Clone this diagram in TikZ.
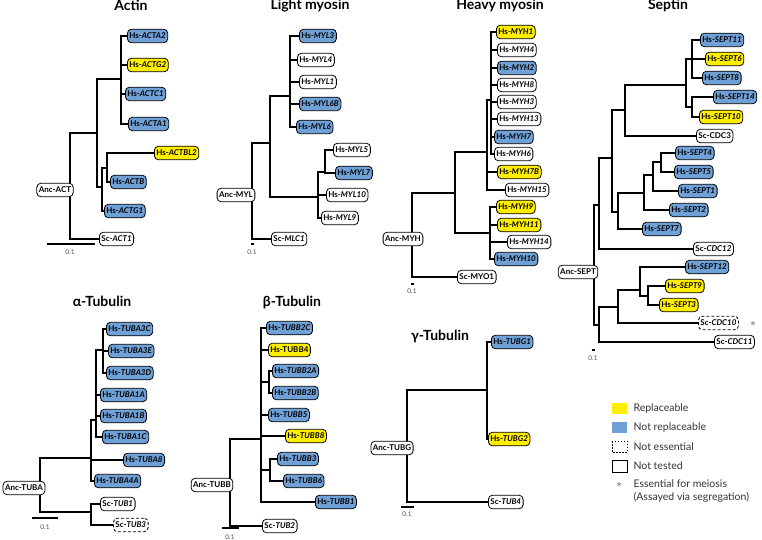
\documentclass[tikz,border=0pt]{standalone}
\usepackage{fontspec}
\setmainfont{Lato}
\usepackage{tikz}
\usetikzlibrary{backgrounds}
\definecolor{repyel}{RGB}{255,238,0}
\definecolor{nrepblu}{RGB}{111,160,214}
\tikzset{
  br/.style={line width=2.8pt, line cap=rect, line join=miter},
  gene/.style={draw, line width=0.8pt, rounded corners=4pt, anchor=west,
    font=\bfseries\fontsize{8}{9}\selectfont, inner xsep=2pt, inner ysep=0pt,
    minimum height=13.5pt},
  rep/.style={gene, fill=repyel},
  nrep/.style={gene, fill=nrepblu},
  ntst/.style={gene, fill=white},
  ness/.style={gene, fill=white, dash pattern=on 3pt off 2pt},
  anc/.style={ntst, anchor=center},
  ttl/.style={font=\bfseries\fontsize{14}{16}\selectfont, anchor=base},
  sbar/.style={line width=2.2pt},
  stxt/.style={font=\fontsize{6.5}{7}\selectfont, text=black!70},
  legtxt/.style={font=\fontsize{10.5}{12}\selectfont, text=black!80, anchor=west},
}
\begin{document}
\begin{tikzpicture}[x=1pt,y=-1pt]
\useasboundingbox (0,0) rectangle (762,540);

% Actin
\node[ttl] (tAct) at (131,11) {Actin};
\node[nrep] (ACTA2) at (127,36) {Hs-\textit{ACTA2}};
\node[rep] (ACTG2) at (127,65) {Hs-\textit{ACTG2}};
\node[nrep] (ACTC1) at (125,94) {Hs-\textit{ACTC1}};
\node[nrep] (ACTA1) at (128,124) {Hs-\textit{ACTA1}};
\node[rep] (ACTBL2) at (154,153) {Hs-\textit{ACTBL2}};
\node[nrep] (ACTB) at (110,182) {Hs-\textit{ACTB}};
\node[nrep] (ACTG1) at (104,211) {Hs-\textit{ACTG1}};
\node[ntst] (ACT1) at (99,239) {Sc-\textit{ACT1}};
\node[anc] (ancACT) at (55,190) {Anc-ACT};
\coordinate (rACT) at (70,190);
\coordinate (a1) at (97,133);
\coordinate (a2) at (121,79);
\coordinate (a3) at (102,187);
\coordinate (a4) at (107,168);
\begin{scope}[on background layer]
\draw[br] (rACT) |- (a1) (rACT) |- (ACT1.west) (a1) |- (a2) (a1) |- (a3);
\draw[br] (a2) |- (ACTA2.west) (a2) |- (ACTG2.west) (a2) |- (ACTC1.west) (a2) |- (ACTA1.west);
\draw[br] (a3) |- (a4) (a3) |- (ACTG1.west) (a4) |- (ACTBL2.west) (a4) |- (ACTB.west);
\end{scope}
\draw[sbar] (47,244) -- (95,244);
\node[stxt] (sAct) at (70,252) {0.1};

% Light myosin
\node[ttl] (tMyl) at (310,10) {Light myosin};
\node[nrep] (MYL3) at (299,36) {Hs-\textit{MYL3}};
\node[ntst] (MYL4) at (297,60) {Hs-\textit{MYL4}};
\node[ntst] (MYL1) at (299,82) {Hs-\textit{MYL1}};
\node[nrep] (MYL6B) at (299,104) {Hs-\textit{MYL6B}};
\node[nrep] (MYL6) at (296,127) {Hs-\textit{MYL6}};
\node[ntst] (MYL5) at (333,150) {Hs-\textit{MYL5}};
\node[nrep] (MYL7) at (335,173) {Hs-\textit{MYL7}};
\node[ntst] (MYL10) at (326,195) {Hs-\textit{MYL10}};
\node[ntst] (MYL9) at (321,218) {Hs-\textit{MYL9}};
\node[ntst] (MLC1) at (271,239) {Sc-\textit{MLC1}};
\node[anc] (ancMYL) at (236,195) {Anc-MYL};
\coordinate (rMYL) at (252,195);
\coordinate (m1) at (270,143);
\coordinate (m2) at (290,96);
\coordinate (m3) at (318,197);
\coordinate (m4) at (325,172);
\begin{scope}[on background layer]
\draw[br] (rMYL) |- (m1) (rMYL) |- (MLC1.west) (m1) |- (m2) (m1) |- (m3);
\draw[br] (m2) |- (MYL3.west) (m2) |- (MYL4.west) (m2) |- (MYL1.west) (m2) |- (MYL6B.west) (m2) |- (MYL6.west);
\draw[br] (m3) |- (m4) (m3) |- (MYL10.west) (m3) |- (MYL9.west) (m4) |- (MYL5.west) (m4) |- (MYL7.west);
\end{scope}
\draw[sbar] (250.5,244) -- (253.5,244);
\node[stxt] (sMyl) at (252,252) {0.1};

% Heavy myosin
\node[ttl] (tMyh) at (500,10) {Heavy myosin};
\node[rep] (MYH1) at (496,32) {Hs-\textit{MYH1}};
\node[ntst] (MYH4) at (497,50) {Hs-\textit{MYH4}};
\node[nrep] (MYH2) at (497,68) {Hs-\textit{MYH2}};
\node[ntst] (MYH8) at (497,85) {Hs-\textit{MYH8}};
\node[ntst] (MYH3) at (497,102) {Hs-\textit{MYH3}};
\node[ntst] (MYH13) at (497,119) {Hs-\textit{MYH13}};
\node[nrep] (MYH7) at (494,137) {Hs-\textit{MYH7}};
\node[ntst] (MYH6) at (494,154) {Hs-\textit{MYH6}};
\node[rep] (MYH7B) at (497,172) {Hs-\textit{MYH7B}};
\node[ntst] (MYH15) at (505,190) {Hs-\textit{MYH15}};
\node[rep] (MYH9) at (496,207) {Hs-\textit{MYH9}};
\node[rep] (MYH11) at (497,225) {Hs-\textit{MYH11}};
\node[ntst] (MYH14) at (507,242) {Hs-\textit{MYH14}};
\node[nrep] (MYH10) at (494,259) {Hs-\textit{MYH10}};
\node[ntst] (MYO1) at (457,277) {Sc-MYO1};
\node[anc] (ancMYH) at (403,239) {Anc-MYH};
\coordinate (rMYH) at (412,239);
\coordinate (h1) at (455,193);
\coordinate (h2) at (487,152);
\coordinate (h3) at (490,233);
\coordinate (h4) at (491,100);
\begin{scope}[on background layer]
\draw[br] (rMYH) |- (h1) (rMYH) |- (MYO1.west) (h1) |- (h2) (h1) |- (h3);
\draw[br] (h2) |- (h4) (h2) |- (MYH7B.west) (h2) |- (MYH15.west);
\draw[br] (h4) |- (MYH1.west) (h4) |- (MYH4.west) (h4) |- (MYH2.west) (h4) |- (MYH8.west) (h4) |- (MYH3.west) (h4) |- (MYH13.west) (h4) |- (MYH7.west) (h4) |- (MYH6.west);
\draw[br] (h3) |- (MYH9.west) (h3) |- (MYH11.west) (h3) |- (MYH14.west) (h3) |- (MYH10.west);
\end{scope}
\draw[sbar] (410.5,284) -- (413.5,284);
\node[stxt] (sMyh) at (412,291) {0.1};

% Septin
\node[ttl] (tSep) at (668,10) {Septin};
\node[nrep] (SEPT11) at (700,40) {Hs-\textit{SEPT11}};
\node[rep] (SEPT6) at (705,59) {Hs-\textit{SEPT6}};
\node[nrep] (SEPT8) at (702,78) {Hs-\textit{SEPT8}};
\node[nrep] (SEPT14) at (713,97) {Hs-\textit{SEPT14}};
\node[rep] (SEPT10) at (699,117) {Hs-\textit{SEPT10}};
\node[ntst] (CDC3) at (696,136) {Sc-CDC3};
\node[nrep] (SEPT4) at (675,153) {Hs-\textit{SEPT4}};
\node[nrep] (SEPT5) at (674,172) {Hs-\textit{SEPT5}};
\node[nrep] (SEPT1) at (678,191) {Hs-\textit{SEPT1}};
\node[nrep] (SEPT2) at (669,210) {Hs-\textit{SEPT2}};
\node[nrep] (SEPT7) at (642,229) {Hs-\textit{SEPT7}};
\node[ntst] (CDC12) at (693,249) {Sc-\textit{CDC12}};
\node[nrep] (SEPT12) at (685,267) {Hs-\textit{SEPT12}};
\node[rep] (SEPT9) at (665,286) {Hs-\textit{SEPT9}};
\node[rep] (SEPT3) at (659,305) {Hs-\textit{SEPT3}};
\node[ness] (CDC10) at (698,323) {Sc-\textit{CDC10}};
\node[ntst] (CDC11) at (714,342) {Sc-\textit{CDC11}};
\node[font=\fontsize{11}{11}\selectfont, text=black!75] (stCDC10) at (753,324) {$\ast$};
\node[anc] (ancSEPT) at (578,272) {Anc-SEPT};
\coordinate (rSEPT) at (594,272);
\coordinate (s1) at (599,205);
\coordinate (s2) at (612,158);
\coordinate (s3) at (625,110);
\coordinate (s4) at (618,212);
\coordinate (s5) at (686,85);
\coordinate (s6) at (692,59);
\coordinate (s7) at (692,107);
\coordinate (s8) at (644,193);
\coordinate (s9) at (599,325);
\coordinate (s10) at (653,175);
\coordinate (s11) at (661,162);
\coordinate (s12) at (618,307);
\coordinate (s13) at (640,290);
\coordinate (s14) at (648,296);
\begin{scope}[on background layer]
\draw[br] (rSEPT) |- (s1) (rSEPT) |- (s9) (s1) |- (s2) (s1) |- (CDC12.west);
\draw[br] (s2) |- (s3) (s2) |- (s4) (s3) |- (s5) (s3) |- (CDC3.west) (s5) |- (s6) (s5) |- (s7);
\draw[br] (s6) |- (SEPT11.west) (s6) |- (SEPT6.west) (s6) |- (SEPT8.west) (s7) |- (SEPT14.west) (s7) |- (SEPT10.west);
\draw[br] (s4) |- (s8) (s4) |- (SEPT7.west) (s8) |- (s10) (s8) |- (SEPT2.west) (s10) |- (s11) (s10) |- (SEPT1.west);
\draw[br] (s11) |- (SEPT4.west) (s11) |- (SEPT5.west);
\draw[br] (s9) |- (s12) (s9) |- (CDC11.west) (s12) |- (s13) (s12) |- (CDC10.west) (s13) |- (SEPT12.west) (s13) |- (s14);
\draw[br] (s14) |- (SEPT9.west) (s14) |- (SEPT3.west);
\end{scope}
\draw[sbar] (591.5,350) -- (594.5,350);
\node[stxt] (sSep) at (593,358) {0.1};

% alpha-Tubulin
\node[ttl] (tTuba) at (102,306) {α-Tubulin};
\node[nrep] (TUBA3C) at (106,329) {Hs-\textit{TUBA3C}};
\node[nrep] (TUBA3E) at (108,351) {Hs-\textit{TUBA3E}};
\node[nrep] (TUBA3D) at (106,373) {Hs-\textit{TUBA3D}};
\node[nrep] (TUBA1A) at (100,395) {Hs-\textit{TUBA1A}};
\node[nrep] (TUBA1B) at (100,416) {Hs-\textit{TUBA1B}};
\node[nrep] (TUBA1C) at (102,437) {Hs-\textit{TUBA1C}};
\node[nrep] (TUBA8) at (123,460) {Hs-\textit{TUBA8}};
\node[nrep] (TUBA4A) at (94,481) {Hs-\textit{TUBA4A}};
\node[ntst] (TUB1) at (100,504) {Sc-\textit{TUB1}};
\node[ness] (TUB3) at (113,525) {Sc-\textit{TUB3}};
\node[anc] (ancTUBA) at (24,488) {Anc-TUBA};
\coordinate (rTUBA) at (40,488);
\coordinate (ta1) at (91,458);
\coordinate (ta2) at (91,512);
\coordinate (ta3) at (96,420);
\coordinate (ta4) at (103,350);
\begin{scope}[on background layer]
\draw[br] (rTUBA) |- (ta1) (rTUBA) |- (ta2) (ta2) |- (TUB1.west) (ta2) |- (TUB3.west);
\draw[br] (ta1) |- (ta3) (ta1) |- (TUBA8.west) (ta1) |- (TUBA4A.west);
\draw[br] (ta3) |- (ta4) (ta3) |- (TUBA1A.west) (ta3) |- (TUBA1B.west) (ta3) |- (TUBA1C.west);
\draw[br] (ta4) |- (TUBA3C.west) (ta4) |- (TUBA3E.west) (ta4) |- (TUBA3D.west);
\end{scope}
\draw[sbar] (32,518) -- (58,518);
\node[stxt] (sTuba) at (45,527) {0.1};

% beta-Tubulin
\node[ttl] (tTubb) at (292,306) {β-Tubulin};
\node[nrep] (TUBB2C) at (266,328) {Hs-\textit{TUBB2C}};
\node[rep] (TUBB4) at (268,350) {Hs-TUBB4};
\node[nrep] (TUBB2A) at (272,371) {Hs-\textit{TUBB2A}};
\node[nrep] (TUBB2B) at (272,393) {Hs-\textit{TUBB2B}};
\node[nrep] (TUBB5) at (268,415) {Hs-\textit{TUBB5}};
\node[rep] (TUBB8) at (285,436) {Hs-\textit{TUBB8}};
\node[nrep] (TUBB3) at (277,459) {Hs-\textit{TUBB3}};
\node[nrep] (TUBB6) at (283,481) {Hs-\textit{TUBB6}};
\node[nrep] (TUBB1) at (315,502) {Hs-\textit{TUBB1}};
\node[ntst] (TUB2) at (262,526) {Sc-\textit{TUB2}};
\node[anc] (ancTUBB) at (212,485) {Anc-TUBB};
\coordinate (rTUBB) at (230,485);
\coordinate (tb1) at (261,439);
\coordinate (tb2) at (269,382);
\coordinate (tb3) at (270,470);
\begin{scope}[on background layer]
\draw[br] (rTUBB) |- (tb1) (rTUBB) |- (TUB2.west);
\draw[br] (tb1) |- (TUBB2C.west) (tb1) |- (TUBB4.west) (tb1) |- (tb2) (tb1) |- (TUBB5.west) (tb1) |- (TUBB8.west) (tb1) |- (tb3) (tb1) |- (TUBB1.west);
\draw[br] (tb2) |- (TUBB2A.west) (tb2) |- (TUBB2B.west) (tb3) |- (TUBB3.west) (tb3) |- (TUBB6.west);
\end{scope}
\draw[sbar] (222,528) -- (239,528);
\node[stxt] (sTubb) at (230,537) {0.1};

% gamma-Tubulin
\node[ttl] (tTubg) at (440,340) {γ-Tubulin};
\node[nrep] (TUBG1) at (491,342) {Hs-\textit{TUBG1}};
\node[rep] (TUBG2) at (488,439) {Hs-\textit{TUBG2}};
\node[ntst] (TUB4) at (488,502) {Sc-\textit{TUB4}};
\node[anc] (ancTUBG) at (392,448) {Anc-TUBG};
\coordinate (rTUBG) at (407,448);
\coordinate (tg1) at (487,390);
\begin{scope}[on background layer]
\draw[br] (rTUBG) |- (tg1) (rTUBG) |- (TUB4.west) (tg1) |- (TUBG1.west) (tg1) |- (TUBG2.west);
\end{scope}
\draw[sbar] (401,507) -- (414,507);
\node[stxt] (sTubg) at (407,514) {0.1};

% legend
\fill[repyel] (612,403) rectangle (627,414);
\fill[nrepblu] (612,422) rectangle (627,433);
\draw[line width=0.6pt, dash pattern=on 1.5pt off 1.5pt] (612,441) rectangle (627,452);
\draw[line width=0.8pt] (612,460) rectangle (627,472);
\node[legtxt] (kRep) at (630,408.5) {Replaceable};
\node[legtxt] (kNrep) at (630,427.5) {Not replaceable};
\node[legtxt] (kNess) at (630,446.5) {Not essential};
\node[legtxt] (kNtst) at (630,466) {Not tested};
\node[font=\fontsize{11}{11}\selectfont, text=black!75] (kStar) at (619,485) {$\ast$};
\node[legtxt] (kMei) at (630,484) {Essential for meiosis};
\node[legtxt] (kSeg) at (630,497) {(Assayed via segregation)};
\end{tikzpicture}
\end{document}
